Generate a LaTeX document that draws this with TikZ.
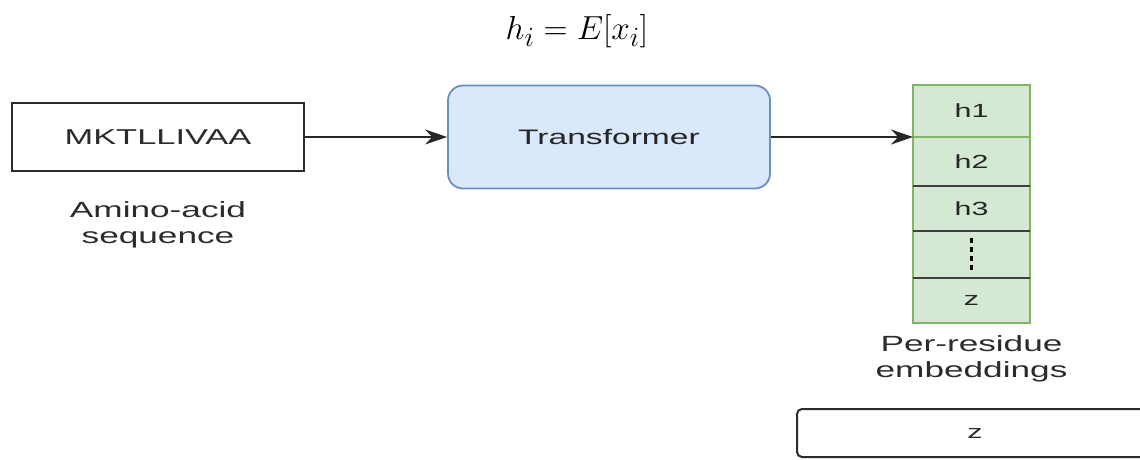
\documentclass[tikz,border=0pt]{standalone}
\usepackage{fontspec}
\setmainfont{Liberation Sans}
\usepackage{graphicx}
\usepackage{xcolor}
\definecolor{tfline}{HTML}{6C8EBF}
\definecolor{tffill}{HTML}{DAE8FC}
\definecolor{embline}{HTML}{82B366}
\definecolor{embfill}{HTML}{D5E8D4}
\definecolor{ink}{HTML}{2B2B2B}
\usetikzlibrary{arrows.meta,positioning}
\newcommand{\wide}[1]{\scalebox{1.6}[1]{#1}}

\begin{document}
\begin{tikzpicture}[
  x=1pt, y=-1pt,
  box/.style={draw=ink, line width=2pt, fill=white, inner sep=0pt, outer sep=0pt, font=\fontsize{21.5}{24}\selectfont, text=ink},
  tfbox/.style={draw=tfline, fill=tffill, line width=1.8pt, rounded corners=15pt, minimum width=322pt, minimum height=103pt, font=\fontsize{21}{24}\selectfont, text=black!85},
  cell/.style={draw=embline, fill=embfill, line width=1.4pt, minimum width=117pt, inner sep=0pt, outer sep=0pt, font=\fontsize{19}{22}\selectfont, text=black!85},
  caption/.style={align=center, font=\fontsize{22}{26}\selectfont, text=ink, inner sep=0pt},
  arrow/.style={-{Stealth[length=22pt,width=15pt]}, line width=1.8pt, color=black!85},
  sep/.style={line width=2pt, color=black!75}
]
\path[use as bounding box, clip] (0,0) rectangle (1140,459);
\node (title) at (577,31) {\scalebox{1.34}{\fontsize{24.88}{30}\selectfont$h_i = E[x_i]$}};

% input sequence
\node[box, minimum width=292pt, minimum height=68pt] (seq) at (158,137) {\wide{MKTLLIVAA}};
\node[caption, below=30pt of seq] (seqlbl) {\wide{Amino-acid}\\\wide{sequence}};

% encoder
\node[tfbox] (tf) at (609,137) {\wide{Transformer}};

% per-residue embedding stack
\node[cell, minimum height=52pt, anchor=north west] (h1) at (913,85) {\wide{h1}};
\node[cell, minimum height=49pt, below=0pt of h1] (h2) {\wide{h2}};
\node[cell, minimum height=45pt, below=0pt of h2] (h3) {\wide{h3}};
\node[cell, minimum height=47pt, below=0pt of h3] (dots) {};
\node[cell, minimum height=45pt, below=0pt of dots] (zcell) {\wide{z}};
\draw[sep] (h2.south west) -- (h2.south east);
\draw[sep] (h3.south west) -- (h3.south east);
\draw[sep] (dots.south west) -- (dots.south east);
\draw[line width=2.6pt, dash pattern=on 5pt off 4pt] ([yshift=-7pt]dots.north) -- ([yshift=5pt]dots.south);
\node[caption, below=12pt of zcell] (emblbl) {\wide{Per-residue}\\\wide{embeddings}};

% pooled vector
\node[box, rounded corners=5pt, minimum width=356pt, minimum height=48pt, font=\fontsize{19}{22}\selectfont] (zbox) at (975,433) {\wide{z}};

\draw[arrow] (seq) -- (tf);
\draw[arrow] (tf.east) -- (h1.south west);
\end{tikzpicture}
\end{document}
